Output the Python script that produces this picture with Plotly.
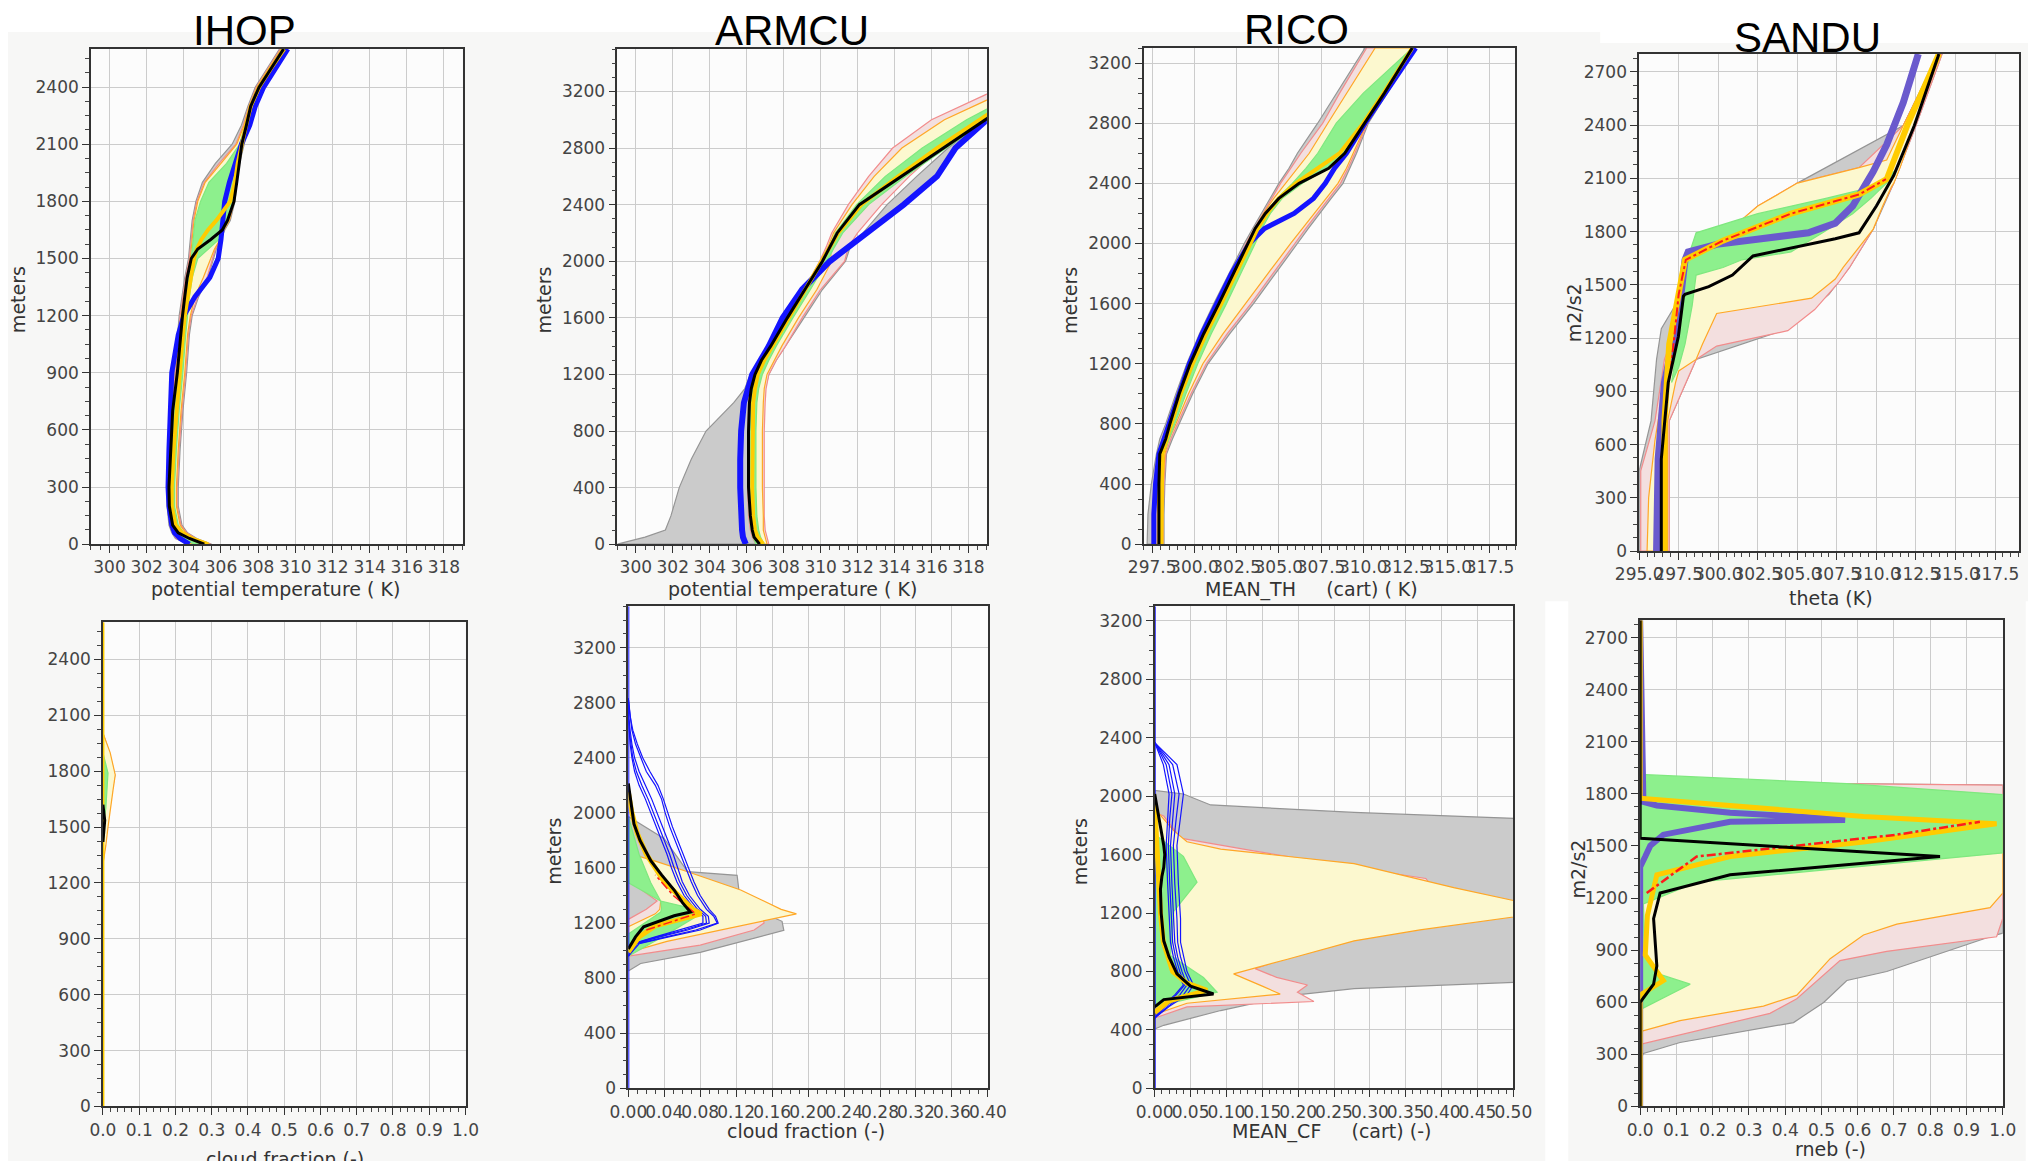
import plotly.graph_objects as go

W, H = 2036, 1161
# The photographed page maps figure pixels to picture pixels as  pic = S * fig + O ;
# layout positions below are given in picture pixels and converted back.
SX, OXP = 0.98, 30.0
SY, OYP = 0.991, 7.0

# ================= DATA =================
# ---- IHOP : potential temperature (K) vs height (m)
IHOP_TH_Z = [0, 30, 60, 100, 200, 300, 500, 700, 900, 1100, 1200, 1300, 1400, 1500, 1550, 1600, 1650, 1700, 1800, 1900, 2000, 2100, 2200, 2300, 2400, 2500, 2600]
IHOP_TH_BLACK = [305.1, 304.3, 303.7, 303.4, 303.22, 303.2, 303.3, 303.4, 303.65, 303.82, 303.93, 304.05, 304.18, 304.4, 304.75, 305.45, 306.07, 306.35, 306.7, 306.85, 306.98, 307.12, 307.37, 307.6, 308.05, 308.7, 309.37]
IHOP_TH_BLUE = [304.3, 303.8, 303.5, 303.35, 303.2, 303.15, 303.2, 303.25, 303.35, 303.7, 304.0, 304.6, 305.4, 305.85, 305.95, 306.0, 306.05, 306.1, 306.2, 306.45, 306.8, 307.1, 307.55, 307.85, 308.3, 308.95, 309.6]
IHOP_TH_GOLD = [305.3, 304.4, 303.9, 303.55, 303.35, 303.35, 303.45, 303.6, 303.8, 303.95, 304.05, 304.2, 304.35, 304.55, 304.7, 304.95, 305.3, 305.75, 306.5, 306.75, 306.9, 307.1, 307.35, 307.6, 308.05, 308.7, 309.4]
IHOP_TH_GRAY_LO = [304.3, 303.55, 303.35, 303.2, 303.1, 303.1, 303.2, 303.3, 303.5, 303.65, 303.75, 303.9, 304.05, 304.25, 304.3, 304.35, 304.4, 304.45, 304.65, 305.0, 305.7, 306.6, 307.1, 307.45, 307.85, 308.5, 309.15]
IHOP_TH_GRAY_HI = [305.5, 304.7, 304.2, 303.9, 303.7, 303.7, 303.8, 303.95, 304.15, 304.3, 304.45, 304.8, 305.3, 305.6, 305.75, 306.0, 306.2, 306.5, 306.75, 306.85, 307.0, 307.25, 307.5, 307.75, 308.2, 308.85, 309.55]
IHOP_TH_PINK_LO = [304.4, 303.6, 303.4, 303.25, 303.15, 303.15, 303.25, 303.35, 303.55, 303.7, 303.8, 303.95, 304.1, 304.3, 304.35, 304.4, 304.45, 304.5, 304.7, 305.1, 305.9, 306.8, 307.2, 307.5, 307.9, 308.55, 309.2]
IHOP_TH_PINK_HI = [305.45, 304.65, 304.15, 303.85, 303.65, 303.65, 303.75, 303.9, 304.1, 304.25, 304.4, 304.75, 305.25, 305.55, 305.7, 305.95, 306.15, 306.45, 306.7, 306.8, 306.95, 307.2, 307.45, 307.7, 308.15, 308.8, 309.5]
IHOP_TH_YEL_LO = [304.5, 303.7, 303.45, 303.3, 303.2, 303.2, 303.3, 303.4, 303.6, 303.75, 303.85, 304.0, 304.15, 304.35, 304.4, 304.45, 304.5, 304.55, 304.75, 305.15, 306.0, 306.85, 307.25, 307.55, 307.95, 308.6, 309.25]
IHOP_TH_YEL_HI = [305.4, 304.6, 304.1, 303.8, 303.6, 303.6, 303.7, 303.85, 304.05, 304.2, 304.35, 304.6, 305.05, 305.45, 305.65, 305.95, 306.15, 306.45, 306.7, 306.8, 306.95, 307.2, 307.45, 307.7, 308.15, 308.8, 309.5]
IHOP_TH_GRN_LO = [304.6, 303.8, 303.5, 303.35, 303.25, 303.25, 303.35, 303.45, 303.65, 303.8, 303.9, 304.05, 304.2, 304.4, 304.45, 304.5, 304.55, 304.6, 304.9, 305.35, 306.3, 307.0, 307.3, 307.6, 308.0, 308.65, 309.3]
IHOP_TH_GRN_HI = [305.3, 304.5, 304.0, 303.7, 303.5, 303.5, 303.6, 303.75, 303.95, 304.1, 304.2, 304.3, 304.45, 304.75, 305.3, 305.9, 306.1, 306.4, 306.65, 306.75, 306.9, 307.15, 307.4, 307.65, 308.1, 308.75, 309.45]

# ---- ARMCU : potential temperature (K)
ARMCU_TH_Z = [0, 50, 100, 200, 400, 600, 800, 1000, 1100, 1200, 1300, 1400, 1600, 1800, 2000, 2100, 2200, 2400, 2600, 2800, 3000, 3200, 3500]
ARMCU_TH_BLACK = [306.7, 306.4, 306.3, 306.2, 306.1, 306.1, 306.1, 306.15, 306.25, 306.45, 306.8, 307.3, 308.2, 309.15, 310.1, 310.5, 310.9, 312.1, 314.35, 316.6, 318.9, 321.2, 324.6]
ARMCU_TH_BLUE = [305.95, 305.8, 305.75, 305.7, 305.65, 305.65, 305.7, 305.85, 306.05, 306.3, 306.75, 307.2, 307.95, 309.0, 310.5, 311.5, 312.55, 314.5, 316.3, 317.3, 319.0, 320.9, 323.8]
ARMCU_TH_GOLD = [306.9, 306.6, 306.45, 306.35, 306.3, 306.3, 306.3, 306.35, 306.45, 306.6, 306.95, 307.4, 308.3, 309.2, 310.1, 310.5, 310.95, 312.2, 314.2, 316.3, 318.7, 321.0, 324.4]
ARMCU_TH_GRAY_LO = [299.0, 300.5, 301.6, 301.9, 302.35, 303.0, 303.8, 305.3, 305.9, 306.2, 306.7, 307.15, 307.9, 309.0, 310.4, 311.4, 312.4, 314.3, 316.2, 317.2, 318.9, 320.8, 323.5]
ARMCU_TH_GRAY_HI = [307.1, 307.0, 306.95, 306.9, 306.9, 306.9, 306.9, 306.95, 307.0, 307.2, 307.6, 308.1, 309.1, 310.1, 311.35, 311.6, 312.3, 313.6, 315.2, 316.9, 318.9, 321.0, 324.5]
ARMCU_TH_PINK_LO = [306.5, 306.3, 306.2, 306.1, 306.05, 306.05, 306.05, 306.1, 306.2, 306.5, 306.85, 307.3, 308.2, 309.1, 309.95, 310.3, 310.6, 311.5, 312.6, 313.9, 316.0, 319.3, 323.5]
ARMCU_TH_PINK_HI = [307.2, 307.1, 307.0, 306.95, 306.95, 306.95, 306.95, 307.0, 307.05, 307.2, 307.6, 308.1, 309.0, 310.0, 311.3, 311.5, 312.0, 313.3, 314.8, 316.5, 318.7, 321.0, 324.5]
ARMCU_TH_YEL_LO = [306.6, 306.4, 306.3, 306.2, 306.15, 306.15, 306.15, 306.2, 306.3, 306.55, 306.9, 307.35, 308.3, 309.2, 310.0, 310.4, 310.7, 311.7, 312.9, 314.4, 316.7, 320.0, 324.0]
ARMCU_TH_YEL_HI = [307.1, 307.0, 306.9, 306.9, 306.85, 306.85, 306.85, 306.9, 306.95, 307.1, 307.5, 307.9, 308.8, 309.8, 310.6, 310.5, 310.8, 312.2, 314.3, 316.5, 318.9, 321.2, 324.6]
ARMCU_TH_GRN_LO = [306.5, 306.35, 306.25, 306.15, 306.1, 306.1, 306.1, 306.15, 306.25, 306.45, 306.8, 307.25, 308.2, 309.1, 310.05, 310.45, 310.8, 311.95, 313.5, 315.5, 317.9, 320.8, 324.4]
ARMCU_TH_GRN_HI = [306.95, 306.75, 306.65, 306.55, 306.5, 306.5, 306.5, 306.55, 306.65, 306.85, 307.2, 307.6, 308.5, 309.45, 310.35, 310.75, 311.2, 312.6, 314.6, 316.8, 319.0, 321.2, 324.6]

# ---- RICO : MEAN_TH (K)
RICO_TH_Z = [0, 200, 400, 600, 700, 800, 1000, 1200, 1400, 1600, 1800, 2000, 2100, 2200, 2300, 2400, 2500, 2600, 2800, 3000, 3300]
RICO_TH_BLACK = [297.9, 297.9, 297.9, 297.95, 298.3, 298.55, 299.1, 299.75, 300.55, 301.45, 302.3, 303.15, 303.6, 304.2, 305.0, 306.2, 307.95, 308.9, 310.1, 311.25, 312.9]
RICO_TH_BLUE = [297.6, 297.6, 297.7, 297.9, 298.2, 298.5, 299.05, 299.7, 300.45, 301.35, 302.2, 303.25, 304.15, 305.9, 307.05, 307.75, 308.3, 309.0, 310.1, 311.3, 313.1]
RICO_TH_GOLD = [298.05, 298.05, 298.05, 298.1, 298.35, 298.65, 299.2, 299.9, 300.7, 301.6, 302.45, 303.3, 303.75, 304.3, 305.0, 306.0, 307.3, 308.6, 310.0, 311.2, 312.9]
RICO_TH_GRAY_LO = [297.2, 297.25, 297.45, 297.75, 297.95, 298.3, 298.9, 299.55, 300.3, 301.15, 302.05, 302.95, 303.45, 303.95, 304.5, 305.0, 305.6, 306.1, 307.3, 308.4, 310.1]
RICO_TH_GRAY_HI = [298.2, 298.2, 298.25, 298.35, 298.7, 299.1, 299.9, 300.8, 302.1, 303.5, 304.8, 306.1, 306.75, 307.4, 308.1, 308.8, 309.2, 309.6, 310.3, 311.4, 313.1]
RICO_TH_PINK_LO = [297.5, 297.5, 297.6, 297.85, 298.1, 298.4, 299.0, 299.65, 300.45, 301.35, 302.2, 303.05, 303.55, 304.05, 304.6, 305.1, 305.7, 306.3, 307.6, 308.6, 310.2]
RICO_TH_PINK_HI = [298.15, 298.15, 298.2, 298.3, 298.6, 299.0, 299.8, 300.7, 301.95, 303.35, 304.65, 305.95, 306.6, 307.25, 307.95, 308.65, 309.1, 309.5, 310.25, 311.35, 313.05]
RICO_TH_YEL_LO = [297.8, 297.8, 297.85, 297.9, 298.2, 298.5, 299.05, 299.7, 300.5, 301.4, 302.25, 303.1, 303.6, 304.1, 304.7, 305.4, 306.1, 306.8, 307.9, 309.0, 310.7]
RICO_TH_YEL_HI = [298.1, 298.1, 298.15, 298.25, 298.5, 298.9, 299.65, 300.5, 301.7, 303.05, 304.35, 305.7, 306.4, 307.05, 307.8, 308.5, 309.0, 309.4, 310.2, 311.3, 313.0]
RICO_TH_GRN_LO = [297.9, 297.9, 297.9, 297.95, 298.3, 298.55, 299.1, 299.75, 300.55, 301.45, 302.3, 303.15, 303.6, 304.2, 304.9, 305.8, 306.6, 307.3, 308.4, 310.0, 312.9]
RICO_TH_GRN_HI = [298.05, 298.05, 298.05, 298.15, 298.5, 298.85, 299.5, 300.2, 301.0, 301.9, 302.75, 303.6, 304.0, 304.5, 305.2, 306.4, 307.9, 308.9, 310.05, 311.2, 312.9]

# ---- SANDU : theta (K)
SANDU_TH_BLACK_Z = [0, 518, 950, 1209, 1436, 1447, 1490, 1555, 1663, 1706, 1760, 1793, 1944, 2117, 2397, 2786, 2800]
SANDU_TH_BLACK = [296.4, 296.4, 296.84, 297.48, 297.8, 297.9, 299.4, 300.9, 302.2, 304.6, 307.4, 308.9, 310.0, 311.1, 312.4, 313.9, 313.95]
SANDU_TH_BLUE_Z = [0, 518, 950, 1339, 1641, 1685, 1728, 1760, 1793, 1847, 1944, 2138, 2289, 2527, 2786, 2800]
SANDU_TH_BLUE = [296.1, 296.2, 296.6, 297.5, 297.9, 298.1, 299.9, 302.5, 305.7, 307.4, 308.5, 309.8, 310.65, 311.7, 312.6, 312.65]
SANDU_TH_GOLD_Z = [0, 734, 1166, 1447, 1641, 1749, 1901, 2009, 2095, 2397, 2786, 2800]
SANDU_TH_GOLD = [296.6, 296.6, 296.9, 297.5, 297.9, 300.3, 304.6, 308.9, 310.65, 311.95, 313.9, 313.95]
SANDU_TH_RED_Z = [1020, 1447, 1641, 1749, 1901, 2009, 2095]
SANDU_TH_RED = [297.0, 297.5, 297.95, 300.3, 304.6, 308.9, 310.6]
SANDU_TH_GRAY_Z = [0, 453, 734, 1080, 1253, 1447, 1598, 1814, 2073, 2397, 2800]
SANDU_TH_GRAY_LO = [295.0, 295.0, 295.75, 296.1, 296.4, 297.7, 297.9, 300.8, 305.0, 311.7, 313.9]
SANDU_TH_GRAY_HI = [296.9, 296.9, 296.9, 298.6, 304.4, 307.0, 308.3, 309.8, 311.1, 312.5, 314.15]
SANDU_TH_PINK_Z = [0, 453, 734, 1080, 1155, 1242, 1361, 1512, 1598, 1814, 1944, 2073, 2160, 2397, 2786, 2800]
SANDU_TH_PINK_LO = [295.1, 295.1, 296.0, 296.6, 296.9, 297.1, 297.4, 297.8, 297.9, 300.8, 302.5, 305.0, 308.9, 311.7, 313.9, 313.95]
SANDU_TH_PINK_HI = [296.9, 296.9, 296.9, 298.6, 299.9, 304.4, 306.1, 307.6, 308.3, 309.8, 310.4, 311.1, 311.5, 312.5, 314.1, 314.15]
SANDU_TH_YEL_Z = [0, 302, 626, 734, 950, 1015, 1080, 1166, 1339, 1425, 1533, 1598, 1814, 1944, 2052, 2073, 2160, 2203, 2397, 2786, 2800]
SANDU_TH_YEL_LO = [295.5, 295.6, 296.0, 296.2, 296.6, 296.8, 297.0, 297.3, 297.6, 297.7, 297.85, 297.9, 300.8, 302.5, 304.6, 305.0, 308.9, 310.65, 311.7, 313.9, 313.95]
SANDU_TH_YEL_HI = [296.8, 296.8, 296.8, 296.8, 297.3, 297.5, 298.6, 299.0, 299.9, 305.9, 307.4, 307.9, 309.8, 310.4, 310.95, 311.1, 311.5, 311.7, 312.4, 314.0, 314.05]
SANDU_TH_GRN_Z = [950, 1036, 1166, 1382, 1555, 1598, 1641, 1685, 1793, 1901, 1987, 2052, 2073, 2138]
SANDU_TH_GRN_LO = [297.05, 297.2, 297.3, 297.5, 297.8, 297.85, 297.9, 298.2, 298.6, 302.5, 306.8, 309.8, 310.3, 311.1]
SANDU_TH_GRN_HI = [297.05, 297.5, 297.9, 298.35, 298.6, 300.3, 301.5, 304.6, 306.6, 308.5, 309.65, 310.4, 310.65, 311.1]

# ---- IHOP : cloud fraction (-)
IHOP_CF_ENV_Z = [0, 1300, 1400, 1500, 1600, 1700, 1780, 1900, 2005, 2600]
IHOP_CF_GRAY_HI = [0, 0, 0.006, 0.012, 0.018, 0.026, 0.033, 0.018, 0, 0]
IHOP_CF_YEL_HI = [0, 0, 0.008, 0.014, 0.02, 0.028, 0.034, 0.02, 0, 0]
IHOP_CF_ENV_LO = [0, 0, 0, 0, 0, 0, 0, 0, 0, 0]
IHOP_CF_GRN_Z = [1500, 1600, 1700, 1790, 1900]
IHOP_CF_GRN_LO = [0, 0, 0, 0, 0]
IHOP_CF_GRN_HI = [0, 0.008, 0.012, 0.014, 0]
IHOP_CF_GOLD_Z = [0, 2600]
IHOP_CF_GOLD = [0.0, 0.0]
IHOP_CF_BLACK_Z = [1420, 1536, 1620]
IHOP_CF_BLACK = [0.0, 0.005, 0.0]

# ---- ARMCU : cloud fraction (-)
ARMCU_CF_GRAY_Z = [853, 907, 987, 1147, 1213, 1300, 1440, 1547, 1573, 1813, 1973]
ARMCU_CF_GRAY_LO = [0, 0, 0, 0, 0, 0, 0, 0, 0, 0, 0]
ARMCU_CF_GRAY_HI = [0, 0.0137, 0.08, 0.173, 0.171, 0.14, 0.123, 0.121, 0.066, 0.04, 0]
ARMCU_CF_PINK_Z = [960, 1040, 1150, 1200, 1227, 1300, 1360, 1440, 1520, 1573, 1650]
ARMCU_CF_PINK_LO = [0, 0, 0, 0, 0, 0.02, 0.032, 0.015, 0, 0, 0]
ARMCU_CF_PINK_HI = [0, 0.08, 0.14, 0.151, 0.15, 0.13, 0.115, 0.11, 0.08, 0.06, 0]
ARMCU_CF_YEL_Z = [987, 1067, 1173, 1267, 1300, 1360, 1440, 1573, 1650, 1707]
ARMCU_CF_YEL_LO = [0, 0, 0, 0.03, 0.035, 0.036, 0.02, 0, 0, 0]
ARMCU_CF_YEL_HI = [0, 0.043, 0.118, 0.187, 0.17, 0.15, 0.125, 0.066, 0.03, 0]
ARMCU_CF_GRN_Z = [960, 1120, 1253, 1280, 1307, 1360, 1493, 1700, 1973]
ARMCU_CF_GRN_LO = [0, 0, 0.03, 0.036, 0.037, 0.036, 0, 0, 0]
ARMCU_CF_GRN_HI = [0, 0.043, 0.077, 0.074, 0.07, 0.036, 0.025, 0.012, 0]
ARMCU_CF_BLUE_Z = [960, 1050, 1100, 1150, 1200, 1250, 1300, 1400, 1500, 1600, 1700, 1800, 1900, 2000, 2100, 2200, 2300, 2400, 2500, 2600, 2700, 2830]
ARMCU_CF_BLUE_A = [0, 0.01, 0.042, 0.075, 0.099, 0.095, 0.087, 0.077, 0.07, 0.064, 0.058, 0.052, 0.046, 0.041, 0.037, 0.03, 0.02, 0.014, 0.008, 0.004, 0.002, 0]
ARMCU_CF_BLUE_B = [0, 0.008, 0.035, 0.066, 0.09, 0.089, 0.08, 0.068, 0.06, 0.055, 0.05, 0.044, 0.038, 0.032, 0.026, 0.019, 0.012, 0.007, 0.004, 0.002, 0.0005, 0]
ARMCU_CF_BLUE_C = [0, 0.005, 0.03, 0.058, 0.083, 0.083, 0.074, 0.062, 0.054, 0.048, 0.043, 0.037, 0.031, 0.025, 0.019, 0.012, 0.007, 0.004, 0.002, 0.001, 0, 0]
ARMCU_CF_BLUE_D = [0, 0.012, 0.045, 0.08, 0.1, 0.097, 0.09, 0.08, 0.073, 0.067, 0.061, 0.055, 0.049, 0.044, 0.039, 0.033, 0.024, 0.016, 0.01, 0.005, 0.002, 0]
ARMCU_CF_BLUE_E = [0, 0.006, 0.032, 0.062, 0.087, 0.086, 0.077, 0.065, 0.057, 0.051, 0.046, 0.04, 0.034, 0.028, 0.022, 0.015, 0.009, 0.005, 0.003, 0.001, 0, 0]
ARMCU_CF_BLACK_Z = [1013, 1100, 1173, 1253, 1280, 1350, 1440, 1550, 1653, 1800, 1920, 2100, 2213]
ARMCU_CF_BLACK = [0, 0.008, 0.017, 0.051, 0.069, 0.06, 0.051, 0.037, 0.025, 0.013, 0.0063, 0.002, 0.0]
ARMCU_CF_GOLD_Z = [990, 1100, 1180, 1267, 1300, 1400, 1500, 1600, 1700, 1850, 2000, 2150]
ARMCU_CF_GOLD = [0, 0.012, 0.03, 0.081, 0.072, 0.055, 0.04, 0.03, 0.02, 0.01, 0.004, 0]
ARMCU_CF_RED_Z = [1150, 1267, 1400, 1550]
ARMCU_CF_RED = [0.02, 0.075, 0.05, 0.03]
ARMCU_CF_AXIS_Z = [0, 3500]
ARMCU_CF_AXIS = [0.0, 0.0]

# ---- RICO : MEAN_CF (-)
RICO_CF_GRAY_Z = [407, 432, 533, 633, 683, 730, 1845, 1889, 1940, 2015, 2040]
RICO_CF_GRAY_LO = [0, 0, 0, 0, 0, 0, 0, 0, 0, 0, 0]
RICO_CF_GRAY_HI = [0, 0.0126, 0.092, 0.185, 0.278, 0.52, 0.52, 0.278, 0.078, 0.04, 0]
RICO_CF_PINK_Z = [482, 558, 595, 658, 708, 760, 820, 1000, 1300, 1437, 1512, 1626, 1713, 1864, 1889]
RICO_CF_PINK_LO = [0, 0, 0, 0.005, 0.02, 0.005, 0, 0, 0, 0, 0, 0, 0, 0, 0]
RICO_CF_PINK_HI = [0, 0.045, 0.222, 0.199, 0.213, 0.17, 0.14, 0.25, 0.40, 0.378, 0.278, 0.138, 0.036, 0.0126, 0]
RICO_CF_YEL_Z = [507, 583, 646, 700, 784, 884, 1010, 1085, 1173, 1230, 1286, 1374, 1538, 1588, 1638, 1688, 1764, 1915]
RICO_CF_YEL_LO = [0, 0, 0.005, 0.03, 0.005, 0, 0, 0, 0, 0, 0, 0, 0, 0, 0, 0, 0, 0]
RICO_CF_YEL_HI = [0, 0.045, 0.175, 0.15, 0.11, 0.185, 0.278, 0.37, 0.5, 0.52, 0.5, 0.417, 0.278, 0.185, 0.092, 0.045, 0.0265, 0]
RICO_CF_GRN_Z = [558, 658, 759, 910, 1211, 1412, 1588, 1739]
RICO_CF_GRN_LO = [0, 0, 0, 0, 0, 0, 0, 0]
RICO_CF_GRN_HI = [0, 0.087, 0.068, 0.022, 0.0265, 0.059, 0.04, 0]
RICO_CF_BLUE_Z = [482, 560, 640, 708, 800, 900, 1000, 1161, 1400, 1663, 1850, 2015, 2216, 2367]
RICO_CF_BLUE_A = [0, 0.02, 0.045, 0.054, 0.045, 0.04, 0.036, 0.036, 0.033, 0.031, 0.036, 0.04, 0.031, 0]
RICO_CF_BLUE_B = [0, 0.015, 0.035, 0.045, 0.038, 0.032, 0.028, 0.026, 0.024, 0.022, 0.025, 0.028, 0.02, 0]
RICO_CF_BLUE_C = [0, 0.01, 0.028, 0.04, 0.032, 0.026, 0.022, 0.02, 0.018, 0.016, 0.018, 0.02, 0.012, 0]
RICO_CF_BLUE_D = [0, 0.018, 0.04, 0.05, 0.042, 0.036, 0.032, 0.031, 0.028, 0.026, 0.03, 0.034, 0.025, 0]
RICO_CF_BLUE_E = [0, 0.012, 0.03, 0.042, 0.035, 0.029, 0.025, 0.023, 0.021, 0.019, 0.021, 0.024, 0.016, 0]
RICO_CF_BLACK_Z = [558, 608, 646, 700, 784, 900, 1010, 1200, 1362, 1450, 1513, 1600, 1663, 1800, 1915, 2015]
RICO_CF_BLACK = [0, 0.0126, 0.082, 0.05, 0.031, 0.02, 0.0126, 0.009, 0.008, 0.01, 0.0126, 0.014, 0.0126, 0.008, 0.0033, 0]
RICO_CF_GOLD_Z = [520, 600, 671, 720, 800, 1000, 1200, 1400, 1600, 1800, 1950]
RICO_CF_GOLD = [0, 0.02, 0.073, 0.045, 0.025, 0.012, 0.008, 0.006, 0.005, 0.003, 0]
RICO_CF_AXIS_Z = [0, 3300]
RICO_CF_AXIS = [0.0, 0.0]

# ---- SANDU : rneb (-)
SANDU_CF_GRAY_Z = [263, 305, 368, 483, 599, 725, 777, 977, 998, 1850, 1870]
SANDU_CF_GRAY_LO = [0, 0, 0, 0, 0, 0, 0, 0, 0, 0, 0]
SANDU_CF_GRAY_HI = [0, 0.009, 0.11, 0.423, 0.506, 0.57, 0.68, 0.965, 1.0, 1.0, 0]
SANDU_CF_PINK_Z = [357, 410, 536, 620, 840, 893, 977, 1082, 1850, 1870]
SANDU_CF_PINK_LO = [0, 0, 0, 0, 0, 0, 0, 0, 0, 0]
SANDU_CF_PINK_HI = [0, 0.11, 0.358, 0.432, 0.551, 0.68, 0.983, 1.0, 1.0, 0]
SANDU_CF_YEL_Z = [431, 494, 578, 641, 851, 987, 1050, 1145, 1229, 1628, 1786]
SANDU_CF_YEL_LO = [0, 0, 0, 0, 0, 0, 0, 0, 0, 0, 0]
SANDU_CF_YEL_HI = [0, 0.11, 0.34, 0.432, 0.524, 0.616, 0.708, 0.965, 1.0, 1.0, 0]
SANDU_CF_GRN_Z = [557, 704, 767, 872, 1166, 1292, 1460, 1796, 1859, 1912]
SANDU_CF_GRN_LO = [0, 0, 0, 0, 0, 0, 0, 0, 0, 0]
SANDU_CF_GRN_HI = [0, 0.138, 0.046, 0.014, 0.009, 0.156, 1.0, 1.0, 0.57, 0]
SANDU_CF_BLUE_Z = [0, 1380, 1439, 1502, 1565, 1639, 1649, 1660, 1691, 1733, 1754, 2800]
SANDU_CF_BLUE = [0.0, 0.0, 0.014, 0.028, 0.064, 0.248, 0.565, 0.524, 0.248, 0.046, 0.009, 0.0]
SANDU_CF_GOLD_Z = [0, 641, 725, 872, 1100, 1334, 1439, 1523, 1628, 1670, 1775, 2800]
SANDU_CF_GOLD = [0, 0, 0.064, 0.014, 0.02, 0.046, 0.248, 0.616, 0.983, 0.616, 0.0, 0.0]
SANDU_CF_RED_Z = [1229, 1439, 1502, 1565, 1639]
SANDU_CF_RED = [0.018, 0.156, 0.432, 0.708, 0.937]
SANDU_CF_BLACK_Z = [0, 599, 704, 809, 1082, 1229, 1334, 1439, 1544, 2800]
SANDU_CF_BLACK = [0, 0, 0.037, 0.046, 0.037, 0.055, 0.248, 0.827, 0.0, 0.0]

# ---- tick labels
TH_TICKS_A = [300, 302, 304, 306, 308, 310, 312, 314, 316, 318]
TH_TICKS_B = [297.5, 300.0, 302.5, 305.0, 307.5, 310.0, 312.5, 315.0, 317.5]
TH_TICKS_C = [295.0, 297.5, 300.0, 302.5, 305.0, 307.5, 310.0, 312.5, 315.0, 317.5]
CF_TICKS_10 = [0.0, 0.1, 0.2, 0.3, 0.4, 0.5, 0.6, 0.7, 0.8, 0.9, 1.0]
CF_TICKS_ARM = [0.0, 0.04, 0.08, 0.12, 0.16, 0.20, 0.24, 0.28, 0.32, 0.36, 0.40]
CF_TICKS_RICO = [0.0, 0.05, 0.10, 0.15, 0.20, 0.25, 0.30, 0.35, 0.40, 0.45, 0.50]
Z_TICKS_300 = [0, 300, 600, 900, 1200, 1500, 1800, 2100, 2400, 2700]
Z_TICKS_400 = [0, 400, 800, 1200, 1600, 2000, 2400, 2800, 3200]

CASE_TITLES = ["IHOP", "ARMCU", "RICO", "SANDU"]

# ================= STYLE =================
GRAY_FILL, GRAY_EDGE = "#cbcbcb", "#959595"
PINK_FILL, PINK_EDGE = "#f3dfdf", "#f28c8c"
YEL_FILL, YEL_EDGE = "#fcf8cf", "#ffa726"
GRN_FILL, GRN_EDGE = "#8df08d", "#7fe87f"
BLUE = "#1414ff"
SLATE = "#6a5acd"
GOLD = "#ffcc00"
RED = "#ff1a1a"
BLACK = "#000000"

TICKFONT = dict(family="DejaVu Sans", size=17, color="#444444")
LABFONT = dict(family="DejaVu Sans", size=19, color="#333333")


def PX(x):
    return ((x - OXP) / SX) / W


def PY(y):
    return 1 - ((y - OYP) / SY) / H


fig = go.Figure()


def names(i):
    s = "" if i == 1 else str(i)
    return "x" + s, "y" + s, "xaxis" + s, "yaxis" + s


def add_env(i, z, lo, hi, fill, edge, width=1.2):
    xr, yr, _, _ = names(i)
    xs = list(lo) + list(hi)[::-1] + [lo[0]]
    ys = list(z) + list(z)[::-1] + [z[0]]
    fig.add_trace(go.Scatter(x=xs, y=ys, mode="lines", fill="toself", fillcolor=fill,
                             line=dict(color=edge, width=width), xaxis=xr, yaxis=yr,
                             showlegend=False, hoverinfo="skip"))


def add_line(i, z, x, color, width, dash="solid"):
    xr, yr, _, _ = names(i)
    fig.add_trace(go.Scatter(x=x, y=z, mode="lines", line=dict(color=color, width=width, dash=dash),
                             xaxis=xr, yaxis=yr, showlegend=False, hoverinfo="skip"))


# ---- panel 1 IHOP theta
add_env(1, IHOP_TH_Z, IHOP_TH_GRAY_LO, IHOP_TH_GRAY_HI, GRAY_FILL, GRAY_EDGE)
add_env(1, IHOP_TH_Z, IHOP_TH_PINK_LO, IHOP_TH_PINK_HI, PINK_FILL, PINK_EDGE)
add_env(1, IHOP_TH_Z, IHOP_TH_YEL_LO, IHOP_TH_YEL_HI, YEL_FILL, YEL_EDGE)
add_env(1, IHOP_TH_Z, IHOP_TH_GRN_LO, IHOP_TH_GRN_HI, GRN_FILL, GRN_EDGE)
add_line(1, IHOP_TH_Z, IHOP_TH_BLUE, BLUE, 5)
add_line(1, IHOP_TH_Z, IHOP_TH_GOLD, GOLD, 4)
add_line(1, IHOP_TH_Z, IHOP_TH_BLACK, BLACK, 3)

# ---- panel 2 ARMCU theta
add_env(2, ARMCU_TH_Z, ARMCU_TH_GRAY_LO, ARMCU_TH_GRAY_HI, GRAY_FILL, GRAY_EDGE)
add_env(2, ARMCU_TH_Z, ARMCU_TH_PINK_LO, ARMCU_TH_PINK_HI, PINK_FILL, PINK_EDGE)
add_env(2, ARMCU_TH_Z, ARMCU_TH_YEL_LO, ARMCU_TH_YEL_HI, YEL_FILL, YEL_EDGE)
add_env(2, ARMCU_TH_Z, ARMCU_TH_GRN_LO, ARMCU_TH_GRN_HI, GRN_FILL, GRN_EDGE)
add_line(2, ARMCU_TH_Z, ARMCU_TH_BLUE, BLUE, 6)
add_line(2, ARMCU_TH_Z, ARMCU_TH_GOLD, GOLD, 4)
add_line(2, ARMCU_TH_Z, ARMCU_TH_BLACK, BLACK, 3)

# ---- panel 3 RICO theta
add_env(3, RICO_TH_Z, RICO_TH_GRAY_LO, RICO_TH_GRAY_HI, GRAY_FILL, GRAY_EDGE)
add_env(3, RICO_TH_Z, RICO_TH_PINK_LO, RICO_TH_PINK_HI, PINK_FILL, PINK_EDGE)
add_env(3, RICO_TH_Z, RICO_TH_YEL_LO, RICO_TH_YEL_HI, YEL_FILL, YEL_EDGE)
add_env(3, RICO_TH_Z, RICO_TH_GRN_LO, RICO_TH_GRN_HI, GRN_FILL, GRN_EDGE)
add_line(3, RICO_TH_Z, RICO_TH_BLUE, BLUE, 5)
add_line(3, RICO_TH_Z, RICO_TH_GOLD, GOLD, 4)
add_line(3, RICO_TH_Z, RICO_TH_BLACK, BLACK, 3)

# ---- panel 4 SANDU theta
add_env(4, SANDU_TH_GRAY_Z, SANDU_TH_GRAY_LO, SANDU_TH_GRAY_HI, GRAY_FILL, GRAY_EDGE)
add_env(4, SANDU_TH_PINK_Z, SANDU_TH_PINK_LO, SANDU_TH_PINK_HI, PINK_FILL, PINK_EDGE)
add_env(4, SANDU_TH_YEL_Z, SANDU_TH_YEL_LO, SANDU_TH_YEL_HI, YEL_FILL, YEL_EDGE)
add_env(4, SANDU_TH_GRN_Z, SANDU_TH_GRN_LO, SANDU_TH_GRN_HI, GRN_FILL, GRN_EDGE)
add_line(4, SANDU_TH_BLUE_Z, SANDU_TH_BLUE, SLATE, 7)
add_line(4, SANDU_TH_GOLD_Z, SANDU_TH_GOLD, GOLD, 6)
add_line(4, SANDU_TH_RED_Z, SANDU_TH_RED, RED, 2, "dashdot")
add_line(4, SANDU_TH_BLACK_Z, SANDU_TH_BLACK, BLACK, 3)

# ---- panel 5 IHOP cloud fraction
add_env(5, IHOP_CF_ENV_Z, IHOP_CF_ENV_LO, IHOP_CF_GRAY_HI, GRAY_FILL, GRAY_EDGE)
add_env(5, IHOP_CF_ENV_Z, IHOP_CF_ENV_LO, IHOP_CF_YEL_HI, YEL_FILL, YEL_EDGE)
add_env(5, IHOP_CF_GRN_Z, IHOP_CF_GRN_LO, IHOP_CF_GRN_HI, GRN_FILL, GRN_EDGE)
add_line(5, IHOP_CF_GOLD_Z, IHOP_CF_GOLD, GOLD, 3)
add_line(5, IHOP_CF_BLACK_Z, IHOP_CF_BLACK, BLACK, 3)

# ---- panel 6 ARMCU cloud fraction
add_env(6, ARMCU_CF_GRAY_Z, ARMCU_CF_GRAY_LO, ARMCU_CF_GRAY_HI, GRAY_FILL, GRAY_EDGE)
add_env(6, ARMCU_CF_PINK_Z, ARMCU_CF_PINK_LO, ARMCU_CF_PINK_HI, PINK_FILL, PINK_EDGE)
add_env(6, ARMCU_CF_YEL_Z, ARMCU_CF_YEL_LO, ARMCU_CF_YEL_HI, YEL_FILL, YEL_EDGE)
add_env(6, ARMCU_CF_GRN_Z, ARMCU_CF_GRN_LO, ARMCU_CF_GRN_HI, GRN_FILL, GRN_EDGE)
add_line(6, ARMCU_CF_AXIS_Z, ARMCU_CF_AXIS, BLUE, 2)
for series in (ARMCU_CF_BLUE_A, ARMCU_CF_BLUE_B, ARMCU_CF_BLUE_C, ARMCU_CF_BLUE_D, ARMCU_CF_BLUE_E):
    add_line(6, ARMCU_CF_BLUE_Z, series, BLUE, 1.2)
add_line(6, ARMCU_CF_GOLD_Z, ARMCU_CF_GOLD, GOLD, 5)
add_line(6, ARMCU_CF_RED_Z, ARMCU_CF_RED, RED, 1.5, "dashdot")
add_line(6, ARMCU_CF_BLACK_Z, ARMCU_CF_BLACK, BLACK, 3)

# ---- panel 7 RICO cloud fraction
add_env(7, RICO_CF_GRAY_Z, RICO_CF_GRAY_LO, RICO_CF_GRAY_HI, GRAY_FILL, GRAY_EDGE)
add_env(7, RICO_CF_PINK_Z, RICO_CF_PINK_LO, RICO_CF_PINK_HI, PINK_FILL, PINK_EDGE)
add_env(7, RICO_CF_YEL_Z, RICO_CF_YEL_LO, RICO_CF_YEL_HI, YEL_FILL, YEL_EDGE)
add_env(7, RICO_CF_GRN_Z, RICO_CF_GRN_LO, RICO_CF_GRN_HI, GRN_FILL, GRN_EDGE)
add_line(7, RICO_CF_AXIS_Z, RICO_CF_AXIS, BLUE, 2)
for series in (RICO_CF_BLUE_A, RICO_CF_BLUE_B, RICO_CF_BLUE_C, RICO_CF_BLUE_D, RICO_CF_BLUE_E):
    add_line(7, RICO_CF_BLUE_Z, series, BLUE, 1.2)
add_line(7, RICO_CF_GOLD_Z, RICO_CF_GOLD, GOLD, 5)
add_line(7, RICO_CF_BLACK_Z, RICO_CF_BLACK, BLACK, 3)

# ---- panel 8 SANDU rneb
add_env(8, SANDU_CF_GRAY_Z, SANDU_CF_GRAY_LO, SANDU_CF_GRAY_HI, GRAY_FILL, GRAY_EDGE)
add_env(8, SANDU_CF_PINK_Z, SANDU_CF_PINK_LO, SANDU_CF_PINK_HI, PINK_FILL, PINK_EDGE)
add_env(8, SANDU_CF_YEL_Z, SANDU_CF_YEL_LO, SANDU_CF_YEL_HI, YEL_FILL, YEL_EDGE)
add_env(8, SANDU_CF_GRN_Z, SANDU_CF_GRN_LO, SANDU_CF_GRN_HI, GRN_FILL, GRN_EDGE)
add_line(8, SANDU_CF_BLUE_Z, SANDU_CF_BLUE, SLATE, 6)
add_line(8, SANDU_CF_GOLD_Z, SANDU_CF_GOLD, GOLD, 5)
add_line(8, SANDU_CF_RED_Z, SANDU_CF_RED, RED, 2.5, "dashdot")
add_line(8, SANDU_CF_BLACK_Z, SANDU_CF_BLACK, BLACK, 3)

# ================= LAYOUT =================
# (panel, x-span px, y-span px (top,bottom), x range, y range, x ticks, x fmt, y ticks, x minor, y minor)
PANELS = [
    (1, (89, 461), (48, 543), (299, 319), (0, 2600), TH_TICKS_A, "{:.0f}", Z_TICKS_300, 0.5, 75),
    (2, (616, 986), (48, 543), (299, 319), (0, 3500), TH_TICKS_A, "{:.0f}", Z_TICKS_400, 0.5, 100),
    (3, (1143, 1515), (47, 543), (297, 319), (0, 3300), TH_TICKS_B, "{:.1f}", Z_TICKS_400, 0.5, 100),
    (4, (1639, 2019), (53, 550), (295, 319), (0, 2800), TH_TICKS_C, "{:.1f}", Z_TICKS_300, 0.5, 75),
    (5, (101, 464), (621, 1105), (0, 1), (0, 2600), CF_TICKS_10, "{:.1f}", Z_TICKS_300, 0.02, 75),
    (6, (627, 987), (605, 1087), (0, 0.4), (0, 3500), CF_TICKS_ARM, "{:.2f}", Z_TICKS_400, 0.01, 100),
    (7, (1154, 1513), (605, 1087), (0, 0.5), (0, 3300), CF_TICKS_RICO, "{:.2f}", Z_TICKS_400, 0.01, 100),
    (8, (1640, 2003), (619, 1105), (0, 1), (0, 2800), CF_TICKS_10, "{:.1f}", Z_TICKS_300, 0.02, 75),
]

layout = dict(
    width=W, height=H, margin=dict(l=0, r=0, t=0, b=0),
    paper_bgcolor="#ffffff", plot_bgcolor="#fcfcfc", showlegend=False,
)
shapes = [
    dict(type="rect", xref="paper", yref="paper", x0=PX(0), x1=PX(2040), y0=PY(1170), y1=PY(31),
         fillcolor="#f7f7f6", line=dict(width=0), layer="below"),
    dict(type="rect", xref="paper", yref="paper", x0=PX(1600), x1=PX(2040), y0=PY(42), y1=PY(31),
         fillcolor="#ffffff", line=dict(width=0), layer="below"),
    dict(type="rect", xref="paper", yref="paper", x0=PX(1545), x1=PX(1568), y0=PY(1170), y1=PY(600),
         fillcolor="#ffffff", line=dict(width=0), layer="below"),
    dict(type="rect", xref="paper", yref="paper", x0=PX(2026), x1=PX(2040), y0=PY(1170), y1=PY(600),
         fillcolor="#ffffff", line=dict(width=0), layer="below"),
]

for (i, (xl, xr_), (yt, yb), xrng, yrng, xt, xfmt, yt_vals, xminor, yminor) in PANELS:
    xn, yn, xkey, ykey = names(i)
    common = dict(showline=True, linecolor="#333333", linewidth=1.5, mirror=True,
                  showgrid=True, gridcolor="#cccccc", gridwidth=1, zeroline=False,
                  ticks="outside", ticklen=7, tickwidth=1, tickcolor="#333333",
                  tickfont=TICKFONT, tickmode="array")
    yvis = [v for v in yt_vals if v <= yrng[1]]
    layout[xkey] = dict(common, domain=[PX(xl), PX(xr_)], range=list(xrng), anchor=yn,
                        tickvals=xt, ticktext=[xfmt.format(v) for v in xt], tickangle=0,
                        minor=dict(ticks="outside", ticklen=4, tickcolor="#444444", dtick=xminor,
                                   tick0=xrng[0], showgrid=False))
    layout[ykey] = dict(common, domain=[PY(yb), PY(yt)], range=list(yrng), anchor=xn,
                        tickvals=yvis, ticktext=[str(v) for v in yvis],
                        minor=dict(ticks="outside", ticklen=4, tickcolor="#444444", dtick=yminor,
                                   tick0=0, showgrid=False))
    shapes.append(dict(type="rect", xref=xn + " domain", yref=yn + " domain", x0=0, x1=1, y0=0, y1=1,
                       fillcolor="#fcfcfc", line=dict(width=0), layer="below"))

layout["shapes"] = shapes

ann = []
TITLE_POS = [(243, 29), (791, 29), (1296, 28), (1808, 36)]
for t, (x, y) in zip(CASE_TITLES, TITLE_POS):
    ann.append(dict(text=t, x=PX(x), y=PY(y), xref="paper", yref="paper", showarrow=False,
                    xanchor="center", yanchor="middle",
                    font=dict(family="Liberation Sans", size=42, color="#000000")))

NB = "\u00a0"
XLABELS = [
    ("potential temperature ( K)", 274, 588),
    ("potential temperature ( K)", 791, 588),
    ("MEAN_TH" + NB * 5 + "(cart) ( K)", 1311, 588),
    ("theta (K)", 1831, 597),
    ("cloud fraction (-)", 283, 1158),
    ("cloud fraction (-)", 805, 1130),
    ("MEAN_CF" + NB * 5 + "(cart) (-)", 1331, 1130),
    ("rneb (-)", 1831, 1148),
]
for t, x, y in XLABELS:
    ann.append(dict(text=t, x=PX(x), y=PY(y), xref="paper", yref="paper", showarrow=False,
                    xanchor="center", yanchor="middle", font=LABFONT))

YLABELS = [
    ("meters", 16, 299),
    ("meters", 543, 299),
    ("meters", 1069, 299),
    ("m2/s2", 1574, 312),
    ("meters", 553, 850),
    ("meters", 1080, 850),
    ("m2/s2", 1578, 868),
]
for t, x, y in YLABELS:
    ann.append(dict(text=t, x=PX(x), y=PY(y), xref="paper", yref="paper", showarrow=False,
                    xanchor="center", yanchor="middle", textangle=-90, font=LABFONT))

layout["annotations"] = ann
fig.update_layout(**layout)
fig.write_html("out.html")
